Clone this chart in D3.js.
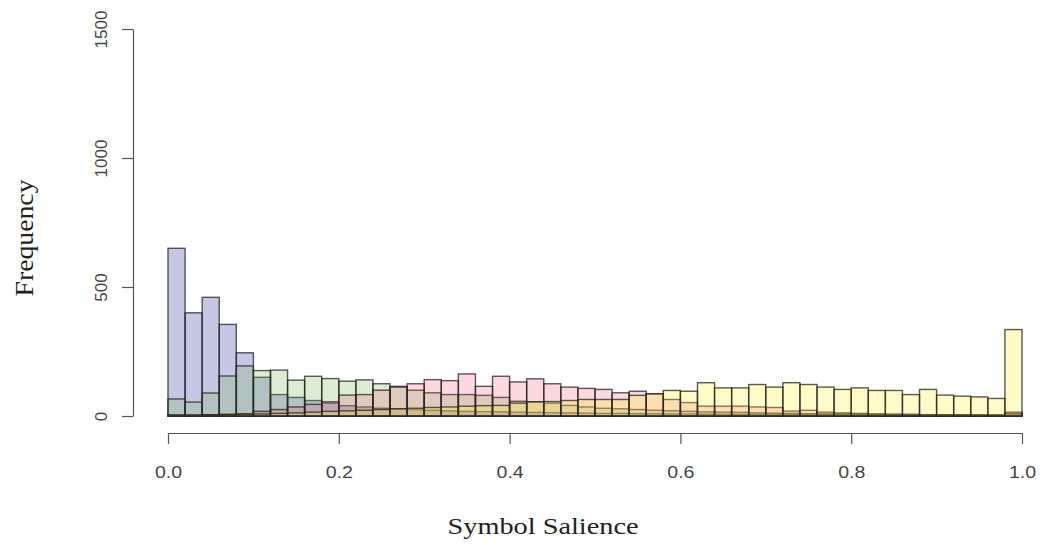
<!DOCTYPE html>
<html><head><meta charset="utf-8">
<script src="https://cdn.jsdelivr.net/npm/d3@7"></script>
<style>body{margin:0;background:#fff}</style>
</head><body>
<svg id="c" width="1045" height="546"></svg>
<script>
// bin edges: 50 bins of width 0.02 over [0,1]
const binWidth = 0.02;
const binStarts = d3.range(50).map(i => +(i * binWidth).toFixed(2));
const blue   = [650,400,460,355,245,150,83,72,60,50,40,35,30,28,25,22,20,18,17,16,15,14,13,12,11,10,10,9,9,8,8,7,7,6,6,6,5,5,5,5,4,4,4,4,3,3,3,3,3,8];
const green  = [66,54,89,155,194,176,178,139,154,145,135,140,125,115,100,90,83,83,80,72,57,55,50,41,35,30,28,25,22,20,18,16,15,14,12,11,10,9,8,8,7,7,6,6,5,5,5,4,4,10];
const pink   = [3,3,5,6,8,18,25,35,45,55,81,83,100,112,125,141,137,163,115,154,132,144,125,112,107,103,90,96,86,64,52,38,38,38,35,33,19,22,15,12,10,8,7,6,5,5,4,4,3,15];
const yellow = [4,4,5,6,7,8,10,12,15,18,20,22,25,28,30,33,35,38,40,41,50,55,56,60,64,64,64,80,86,99,96,129,109,109,122,112,129,122,112,103,109,99,99,83,103,81,77,74,68,335];
const xTicks = [0, 0.2, 0.4, 0.6, 0.8, 1.0];
const yTicks = [0, 500, 1000, 1500];

const series = [
  {vals: blue,   fill: "rgba(45,45,160,0.27)"},
  {vals: green,  fill: "rgba(115,185,85,0.25)"},
  {vals: pink,   fill: "rgba(235,80,110,0.22)"},
  {vals: yellow, fill: "rgba(255,238,40,0.25)"}
];

const svg = d3.select("#c");
const x = d3.scaleLinear().domain([0, 1]).range([168, 1022]);
const y = d3.scaleLinear().domain([0, 1500]).range([416, 29]);

series.forEach(s => {
  svg.append("g").selectAll("rect").data(binStarts).join("rect")
    .attr("x", d => x(d))
    .attr("width", d => x(d + binWidth) - x(d))
    .attr("y", (d, i) => y(s.vals[i]))
    .attr("height", (d, i) => y(0) - y(s.vals[i]))
    .attr("fill", s.fill)
    .attr("stroke", "#222")
    .attr("stroke-opacity", 0.75)
    .attr("stroke-width", 1.4);
});

const sans = "'Liberation Sans', Arial, Helvetica, sans-serif";
const serif = "'Liberation Serif', 'Times New Roman', Times, serif";

// Y axis (R style)
const yAxis = d3.axisLeft(y).tickValues(yTicks).tickSize(11).tickSizeOuter(0).tickFormat(d3.format("d"));
const gy = svg.append("g").attr("transform", "translate(133,0)").call(yAxis);
gy.attr("font-family", null);
gy.select(".domain").attr("stroke", "#555").attr("stroke-width", 1.2);
gy.selectAll(".tick line").attr("stroke", "#555").attr("stroke-width", 1.2);
gy.selectAll(".tick text")
  .style("font-family", sans)
  .attr("font-size", 17).attr("fill", "#444")
  .attr("text-anchor", "middle")
  .attr("x", 0).attr("dy", 0)
  .attr("transform", "translate(-32,0) rotate(-90) translate(0,6)");

// X axis
const xAxis = d3.axisBottom(x).tickValues(xTicks).tickSize(11).tickSizeOuter(0).tickFormat(d3.format(".1f"));
const gx = svg.append("g").attr("transform", "translate(0,433)").call(xAxis);
gx.attr("font-family", null);
gx.select(".domain").attr("stroke", "#555").attr("stroke-width", 1.2);
gx.selectAll(".tick line").attr("stroke", "#555").attr("stroke-width", 1.2);
gx.selectAll(".tick text")
  .style("font-family", sans)
  .attr("font-size", 17).attr("fill", "#444")
  .attr("y", 0).attr("dy", 0)
  .attr("transform", "translate(0,45) scale(1.15,1)");

// Axis titles
svg.append("text")
  .attr("transform", "translate(543,534) scale(1.18,1)")
  .attr("text-anchor", "middle")
  .style("font-family", serif)
  .attr("font-size", 24).attr("fill", "#222")
  .text("Symbol Salience");

svg.append("text")
  .attr("transform", "translate(33,238) rotate(-90)")
  .attr("text-anchor", "middle")
  .style("font-family", serif)
  .attr("font-size", 25).attr("fill", "#222")
  .attr("textLength", 117).attr("lengthAdjust", "spacingAndGlyphs")
  .text("Frequency");
</script>
</body></html>
